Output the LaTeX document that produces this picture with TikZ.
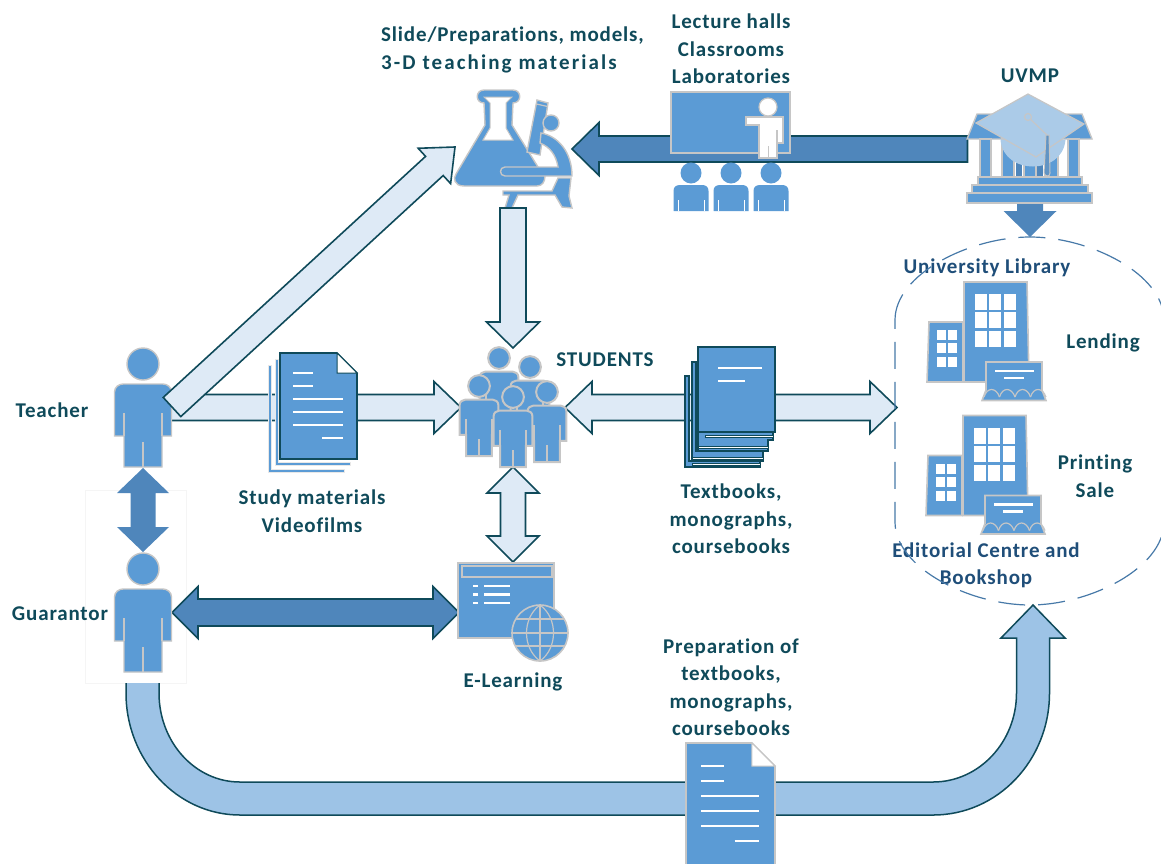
\documentclass[tikz,border=0pt]{standalone}
\usepackage{fontspec}
\setmainfont[LetterSpace=4,Ligatures=NoCommon]{Carlito}
\usetikzlibrary{calc}

\definecolor{iconblue}{HTML}{5B9BD5}
\definecolor{icongrey}{HTML}{C6C6C6}
\definecolor{edgeteal}{HTML}{0F4A5A}
\definecolor{paleblue}{HTML}{DEEAF6}
\definecolor{deepblue}{HTML}{4F86BB}
\definecolor{skyblue}{HTML}{9DC3E6}
\definecolor{capblue}{HTML}{ABCBE8}
\definecolor{titleblue}{HTML}{1F4E79}

% block arrows: style, tail, tip, half shaft, half head, head length
\newcommand{\onearrow}[6]{
\coordinate (hb) at ($(#3)!#6!(#2)$);
\filldraw[#1] ($(#2)!#4!90:(#3)$) -- ($(hb)!#4!90:(#3)$) -- ($(hb)!#5!90:(#3)$) -- (#3) -- ($(hb)!#5!-90:(#3)$) -- ($(hb)!#4!-90:(#3)$) -- ($(#2)!#4!-90:(#3)$) -- cycle;
}
\newcommand{\twoarrow}[6]{
\coordinate (hb) at ($(#3)!#6!(#2)$);
\coordinate (ha) at ($(#2)!#6!(#3)$);
\filldraw[#1] (#2) -- ($(ha)!#5!-90:(#3)$) -- ($(ha)!#4!-90:(#3)$) -- ($(hb)!#4!90:(#2)$) -- ($(hb)!#5!90:(#2)$) -- (#3) -- ($(hb)!#5!-90:(#2)$) -- ($(hb)!#4!-90:(#2)$) -- ($(ha)!#4!90:(#3)$) -- ($(ha)!#5!90:(#3)$) -- cycle;
}

\tikzset{
icon/.style={draw=icongrey,fill=iconblue,line width=1.4pt},
iconline/.style={draw=icongrey,line width=1.2pt},
whitebar/.style={draw=white,line width=2.6pt},
pale arrow/.style={draw=edgeteal,fill=paleblue,line width=1.6pt},
deep arrow/.style={draw=edgeteal,fill=deepblue,line width=1.6pt},
flat arrow/.style={draw=none,fill=deepblue},
bookedge/.style={draw=edgeteal,fill=iconblue,line width=1.4pt},
tag/.style={font=\bfseries\fontsize{21}{27.4}\selectfont,text=edgeteal,align=center,inner sep=0pt},
bluetag/.style={tag,text=titleblue},
pics/person/.style={code={
\filldraw[icon] (0,0) circle (16);
\filldraw[icon] (-28.5,72) -- (-28.5,28) .. controls (-28.5,23) and (-24,20) .. (-20,20) -- (20,20) .. controls (24,20) and (28.5,23) .. (28.5,28) -- (28.5,72) -- (19,72) -- (19,103) -- (-19,103) -- (-19,72) -- cycle;
\draw[iconline] (-19,49) -- (-19,72) (19,49) -- (19,72) (0,78) -- (0,103);
}},
pics/listener/.style={code={
\fill[iconblue] (0,0) circle (10.5);
\fill[iconblue] (-17.5,38) -- (-17.5,18) .. controls (-17.5,14) and (-15,12) .. (-11,12) -- (11,12) .. controls (15,12) and (17.5,14) .. (17.5,18) -- (17.5,38) -- cycle;
\draw[white,line width=1pt] (-13,27) -- (-13,38) (13,27) -- (13,38);
}},
pics/docsheet/.style={code={
\filldraw[draw=#1,fill=iconblue,line width=1.6pt] (0,0) -- (57,0) -- (77,20) -- (77,106) -- (0,106) -- cycle;
\filldraw[draw=#1,fill=white,line width=1pt] (57,0) -- (57,20) -- (77,20) -- cycle;
\foreach \ly/\lx/\lw in {20/13/20,33/13/20,46/13/50,59/13/50,72/13/50,85/42/21}
  \draw[whitebar,line width=2pt] (\lx,\ly) -- +(\lw,0);
}},
pics/campus/.style={code={
\filldraw[icon,line width=1.6pt] (0,0) -- (63,0) -- (65,100) -- (0,100) -- cycle;
\filldraw[icon,line width=1.6pt] (-35,40) -- (-1,40) -- (-1,100) -- (-37,100) -- cycle;
\foreach \wx in {11,25,40} \foreach \wy in {12,30,49}
  \fill[white] (\wx,\wy) rectangle +(12,16);
\foreach \wx in {-27,-16} \foreach \wy in {48,61,75}
  \fill[white] (\wx,\wy) rectangle +(9,10);
\filldraw[icon,line width=1.6pt] (22,80) -- (78,80) -- (78,108) -- (82,118.5) -- (18,118.5) -- (22,108) -- cycle;
\draw[whitebar] (31,89) -- (70,89);
\draw[whitebar] (40,96) -- (60,96);
\foreach \sx in {20,35.5,51,66.5}
  \draw[iconline] (\sx,115) .. controls (\sx+3,105) and (\sx+12,105) .. (\sx+15.5,115);
}}
}

\begin{document}
\begin{tikzpicture}[x=1pt,y=-1pt]
\path[use as bounding box,clip] (0,0) rectangle (1161,863);

\coordinate (teachertail) at (172,407);
\coordinate (flasktip) at (455,147);
\coordinate (uvmpleft) at (967.5,149);
\coordinate (classtip) at (572,149);
\coordinate (uvmpbottom) at (1030,203);
\coordinate (librarytop) at (1030,237);
\coordinate (flaskbottom) at (513,208);
\coordinate (studentstop) at (513,348);
\coordinate (teacherright) at (170,407.5);
\coordinate (studentsleft) at (461,407.5);
\coordinate (studentsright) at (565,407.5);
\coordinate (libraryleft) at (897,407.5);
\coordinate (studentsbottom) at (513,467);
\coordinate (elearningtop) at (513,562);
\coordinate (teacherfeet) at (143,468);
\coordinate (guarantorhead) at (143,552);
\coordinate (guarantorright) at (172,612.5);
\coordinate (elearningleft) at (459,612.5);

\filldraw[draw=black!4,fill=white] (85,490) rectangle (186,683);

% Bent arrow
\filldraw[draw=edgeteal,fill=skyblue,line width=1.5pt] (126,683) -- (126,693) .. controls (126,760) and (177,815) .. (240,815) -- (933,815) .. controls (998,815) and (1049.5,760) .. (1049.5,693) -- (1049.5,638) -- (1065,638) -- (1033,605) -- (1001,638) -- (1016.5,638) -- (1016.5,693) .. controls (1016.5,742) and (979,782) .. (933,782) -- (240,782) .. controls (195,782) and (159,742) .. (159,693) -- (159,683);

\onearrow{pale arrow}{teacherright}{studentsleft}{13pt}{26pt}{27pt}
\twoarrow{pale arrow}{studentsright}{libraryleft}{13pt}{26pt}{27pt}
\onearrow{deep arrow}{uvmpleft}{classtip}{13pt}{26.5pt}{27pt}
\onearrow{flat arrow}{uvmpbottom}{librarytop}{13pt}{26.5pt}{26pt}
\twoarrow{flat arrow}{teacherfeet}{guarantorhead}{12.5pt}{26pt}{25pt}
\twoarrow{deep arrow}{guarantorright}{elearningleft}{13.5pt}{26pt}{26pt}
\twoarrow{pale arrow}{studentsbottom}{elearningtop}{12.5pt}{26pt}{26pt}

% People
\pic at (143,364) {person};
\pic at (143,569) {person};
\begin{scope}[icon/.append style={line width=2pt},iconline/.append style={line width=1.6pt}]
\pic[scale=0.68] at (499,358) {person};
\pic[scale=0.68] at (530,367) {person};
\pic[scale=0.68] at (479,386) {person};
\pic[scale=0.68] at (547,392) {person};
\pic[scale=0.68] at (513,397) {person};
\end{scope}

% Flask and microscope
\filldraw[icon] (484,90) -- (513,90) .. controls (522,90) and (522,103) .. (513,103) -- (512,125) -- (538,167) -- (545,176) .. controls (545,182) and (542,186) .. (537,186) -- (464,186) .. controls (454,186) and (453,178) .. (456,174) -- (485,125) -- (484,103) .. controls (475,103) and (475,90) .. (484,90) -- cycle;
\filldraw[draw=icongrey,fill=white,line width=1pt] (484,97) -- (512,97) -- (506,103) -- (506,128) -- (513,140) -- (483,140) -- (490,128) -- (490,103) -- cycle;
\filldraw[icon] (558,178) -- (571,178) -- (569,196) -- (572,208) -- (562,207) -- (555,195) -- (518,195) -- (512,208) -- (505,208) -- (509,195) -- (503,195) -- (503,191) -- (552,191) -- cycle;
\filldraw[icon] (527,152) -- (537,100) -- (548,103) -- (540,155) -- cycle;
\draw[iconline] (536.5,104) -- (547.5,106.5);
\filldraw[icon] (551,123) circle (8);
\filldraw[icon] (541,133) .. controls (558,136) and (572,152) .. (572,176) -- (505,176) .. controls (499,176) and (499,167) .. (505,167) -- (558,167) .. controls (556,155) and (550,147) .. (540,143) -- cycle;
\onearrow{pale arrow}{flaskbottom}{studentstop}{13pt}{26.5pt}{26pt}
\onearrow{pale arrow}{teachertail}{flasktip}{13pt}{24pt}{28pt}

% Classroom
\filldraw[icon] (671,92) rectangle (790,153);
\filldraw[draw=icongrey,fill=white,line width=1.2pt] (768,107) circle (9);
\filldraw[draw=icongrey,fill=white,line width=1.2pt] (746,117) -- (783,117) -- (783,143) -- (777,143) -- (777,158) -- (759,158) -- (759,125) -- (746,125) -- cycle;
\draw[iconline] (777,130) -- (777,143) (768.5,146) -- (768.5,158);
\foreach \ax in {691,731,771}
  \pic at (\ax,173) {listener};

% Temple and cap
\fill[white] (980,139) rectangle (1079,177);
\filldraw[icon] (977,114) -- (1082,114) -- (1092,139) -- (967,139) -- cycle;
\foreach \cx/\cw in {980/11,1068/11,1002/12,1024/12,1045/13}
  \filldraw[icon] (\cx,139) rectangle +(\cw,38);
\fill[deepblue] (1016,160) rectangle +(6,17);
\fill[deepblue] (1037,160) rectangle +(6,17);
\filldraw[icon] (978,177) rectangle (1082,185);
\filldraw[icon] (972,185) rectangle (1088,193);
\filldraw[icon] (967,193) rectangle (1092,203);
\filldraw[draw=capblue,fill=capblue,line width=1pt] (1001,140) .. controls (1003,158) and (1018,166) .. (1033,166) .. controls (1048,166) and (1063,158) .. (1065,140) -- cycle;
\filldraw[draw=icongrey,fill=capblue,line width=1.2pt] (1028,94) -- (1084,124) -- (1036,157) -- (976,123) -- cycle;
\draw[iconline] (1028,117) -- (1047,135);
\filldraw[draw=icongrey,fill=capblue,line width=1.2pt] (1028,117) circle (3.5);
\filldraw[draw=icongrey,fill=deepblue!80!capblue,line width=1pt] (1046,135) -- (1049,135) -- (1050,173) .. controls (1050,177) and (1045,177) .. (1044,173) -- cycle;

% Library
\pic at (964,282) {campus};
\pic at (963,415.5) {campus};
\node[bluetag] (librarylabel) at (987,268) {University Library};
\node[bluetag] (editoriallabel) at (986,565) {Editorial Centre and\\Bookshop};
\draw[draw=deepblue!90!black,line width=1.2pt,dash pattern=on 27pt off 13pt] (895,320) .. controls (895,274) and (970,237) .. (1030,237) .. controls (1090,237) and (1164,274) .. (1164,320) -- (1164,522) .. controls (1164,568) and (1090,605) .. (1030,605) .. controls (970,605) and (895,568) .. (895,522) -- cycle;

% Study materials
\filldraw[draw=icongrey!40,fill=iconblue,line width=.5pt] (268,365) -- (271,365) -- (271,469) -- (344,469) -- (344,472) -- (268,472) -- cycle;
\filldraw[draw=icongrey!40,fill=iconblue,line width=.5pt] (275,359) -- (278,359) -- (278,462) -- (350,462) -- (350,465) -- (275,465) -- cycle;
\pic at (280,353) {docsheet=edgeteal};

% Textbooks
\filldraw[bookedge] (685,376) -- (689,376) -- (689,461) -- (760,461) -- (760,467) -- (685,467) -- cycle;
\filldraw[bookedge] (692,362) -- (696,362) -- (696,451) -- (763,451) -- (763,461) -- (692,461) -- cycle;
\filldraw[bookedge] (698,347) -- (775,347) -- (775,432) -- (773,432) -- (773,440) -- (768,440) -- (768,451) -- (698,451) -- cycle;
\foreach \bx/\by/\bw in {705/435/68,698/446/70,692/457/71,692/463/68}
  \filldraw[draw=edgeteal,fill=white,line width=.8pt] (\bx,\by) rectangle +(\bw,2.6);
\draw[draw=edgeteal,line width=1.6pt] (698,432) -- (775,432);
\draw[whitebar] (718,368) -- (762,368);
\draw[whitebar] (718,381) -- (745,381);

% E-learning
\filldraw[icon,line width=1.6pt] (458,563) rectangle (554,638);
\filldraw[icon] (462,566) rectangle (552,577);
\foreach \ry in {586,594.5,603} {
  \draw[whitebar] (473,\ry) -- (478,\ry);
  \draw[whitebar] (484,\ry) -- (510,\ry);
}
\filldraw[icon,line width=1.6pt] (540,633) circle (28);
\draw[iconline] (540,605) -- (540,661) (512,633) -- (568,633) (516,619) -- (564,619) (516,646) -- (564,646);
\draw[iconline] (540,605) .. controls (522,618) and (522,648) .. (540,661) .. controls (558,648) and (558,618) .. (540,605);

% Preparation
\pic[scale=1.156] at (686,743) {docsheet=icongrey};

% Labels
\node[tag,anchor=west,align=left] (slidelabel) at (381,50) {Slide/Preparations, models,\\\addfontfeature{LetterSpace=10}3-D teaching materials};
\node[tag] (roomslabel) at (731,49) {Lecture halls\\Classrooms\\Laboratories};
\node[tag] (uvmplabel) at (1030,76) {UVMP};
\node[tag] (lendinglabel) at (1103,343) {Lending};
\node[tag] (saleslabel) at (1095,476) {Printing\\Sale};
\node[tag] (teacherlabel) at (52,410) {Teacher};
\node[tag] (guarantorlabel) at (60,614) {Guarantor};
\node[tag] (studentslabel) at (605,360) {STUDENTS};
\node[tag] (studylabel) at (312,511) {Study materials\\Videofilms};
\node[tag] (textbookslabel) at (731,519) {Textbooks,\\monographs,\\coursebooks};
\node[tag] (elearninglabel) at (513,682) {E-Learning};
\node[tag] (preparationlabel) at (731,687) {Preparation of\\textbooks,\\monographs,\\coursebooks};
\end{tikzpicture}
\end{document}
